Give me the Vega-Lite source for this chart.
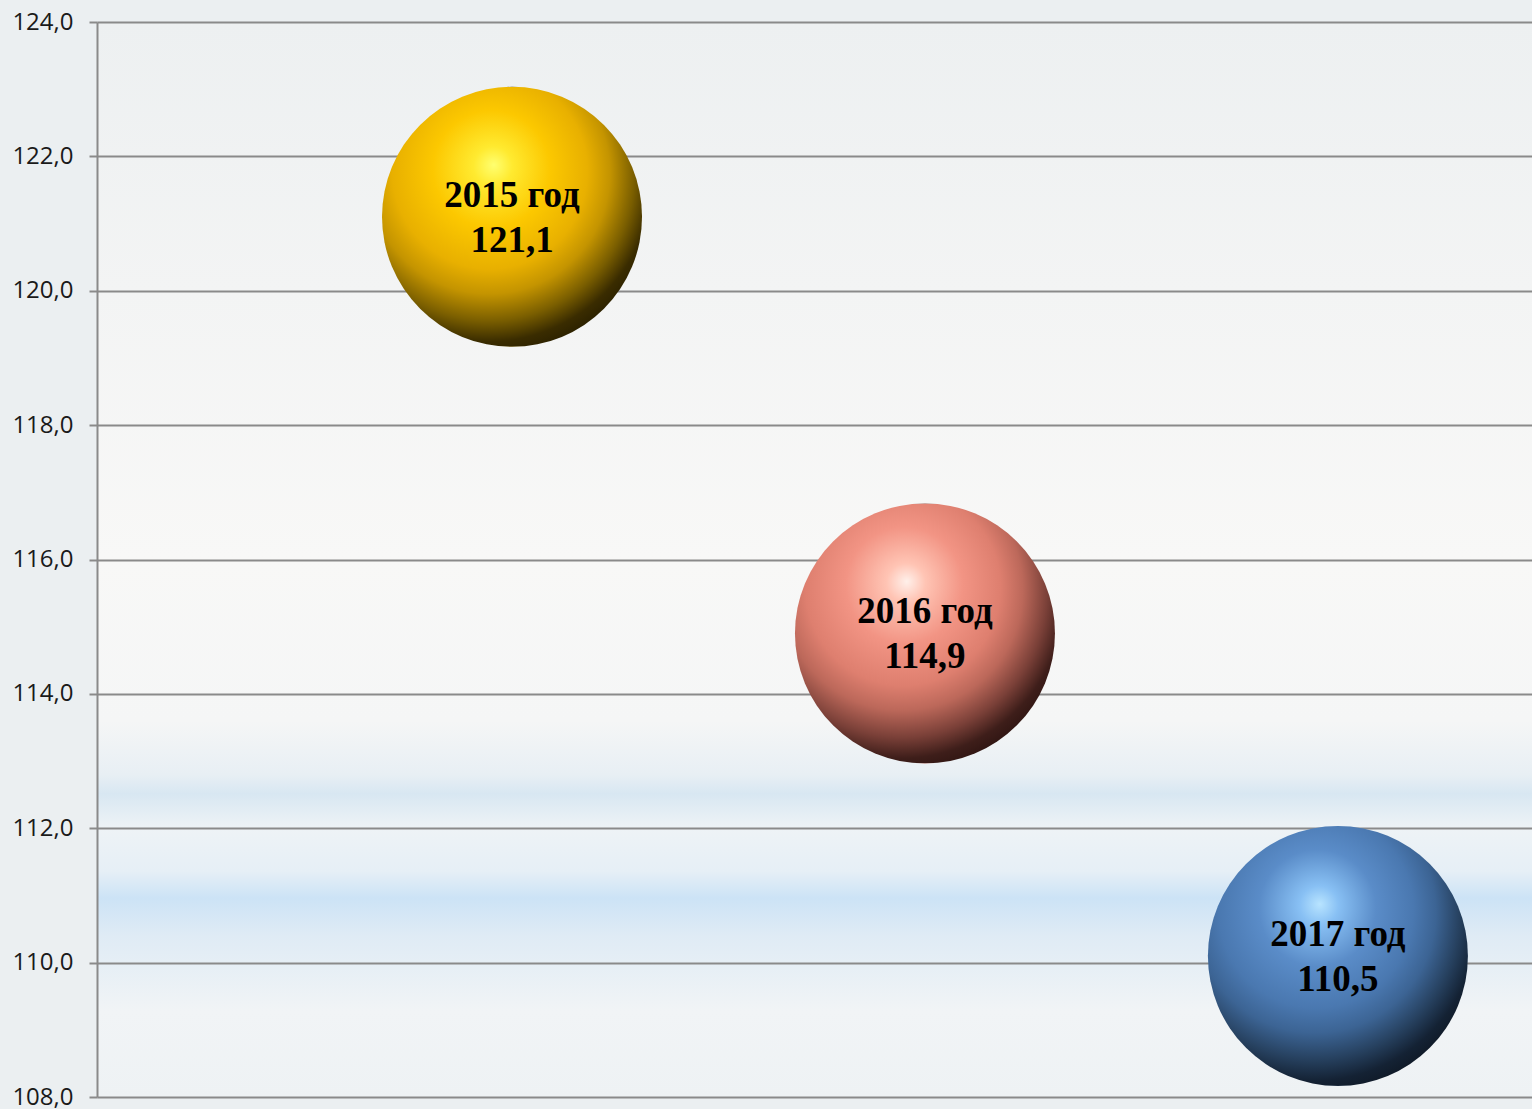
{
  "$schema": "https://vega.github.io/schema/vega-lite/v6.json",
  "width": 1435,
  "height": 1075,
  "autosize": {"type": "none"},
  "padding": {"left": 97, "top": 22, "right": 0, "bottom": 12},
  "background": "#ebeff1",
  "config": {
    "view": {
      "stroke": null,
      "fill": {
        "gradient": "linear", "x1": 0, "y1": 0, "x2": 0, "y2": 1,
        "stops": [
          {"offset": 0, "color": "#edf0f1"},
          {"offset": 0.25, "color": "#f3f4f4"},
          {"offset": 0.5, "color": "#f8f8f7"},
          {"offset": 0.65, "color": "#f5f6f6"},
          {"offset": 0.7, "color": "#e8eff4"},
          {"offset": 0.718, "color": "#d8e7f2"},
          {"offset": 0.75, "color": "#eef3f6"},
          {"offset": 0.79, "color": "#e6eff6"},
          {"offset": 0.815, "color": "#cce3f6"},
          {"offset": 0.85, "color": "#dfebf5"},
          {"offset": 0.92, "color": "#f1f4f6"},
          {"offset": 1, "color": "#eef2f4"}
        ]
      }
    }
  },
  "data": {
    "values": [
      {"x": 1, "y": 121.1, "year": "2015", "text": "2015 год\n121,1"},
      {"x": 2, "y": 114.9, "year": "2016", "text": "2016 год\n114,9"},
      {"x": 3, "y": 110.1, "year": "2017", "text": "2017 год\n110,5"}
    ]
  },
  "encoding": {
    "x": {"field": "x", "type": "quantitative", "scale": {"domain": [-0.005, 3.47], "nice": false, "zero": false}, "axis": null},
    "y": {
      "field": "y", "type": "quantitative",
      "scale": {"domain": [108, 124], "nice": false, "zero": false},
      "axis": {
        "title": null,
        "values": [108, 110, 112, 114, 116, 118, 120, 122, 124],
        "labelExpr": "replace(format(datum.value, '.1f'), '.', ',')",
        "labelFont": "Open Sans",
        "labelFontSize": 24,
        "labelColor": "#1a1a1a",
        "labelPadding": 16,
        "tickSize": 8,
        "tickColor": "#8a8a8a",
        "tickWidth": 2,
        "domainColor": "#8a8a8a",
        "domainWidth": 2,
        "grid": true,
        "gridColor": "#8a8a8a",
        "gridWidth": 2,
        "gridOpacity": 1
      }
    }
  },
  "layer": [
    {
      "transform": [{"filter": "datum.year == '2015'"}],
      "mark": {
        "type": "point", "shape": "circle", "filled": true, "size": 67600, "opacity": 1, "strokeWidth": 0,
        "fill": {
          "gradient": "radial", "x1": 0.43, "y1": 0.3, "r1": 0, "x2": 0.4, "y2": 0.35, "r2": 0.75,
          "stops": [
            {"offset": 0, "color": "#ffff70"},
            {"offset": 0.1, "color": "#ffea30"},
            {"offset": 0.3, "color": "#fcc800"},
            {"offset": 0.5, "color": "#e8b000"},
            {"offset": 0.62, "color": "#c49400"},
            {"offset": 0.75, "color": "#7a5e00"},
            {"offset": 0.85, "color": "#3a2c00"},
            {"offset": 1, "color": "#1a1400"}
          ]
        }
      }
    },
    {
      "transform": [{"filter": "datum.year == '2016'"}],
      "mark": {
        "type": "point", "shape": "circle", "filled": true, "size": 67600, "opacity": 1, "strokeWidth": 0,
        "fill": {
          "gradient": "radial", "x1": 0.43, "y1": 0.3, "r1": 0, "x2": 0.4, "y2": 0.35, "r2": 0.75,
          "stops": [
            {"offset": 0, "color": "#fff0ea"},
            {"offset": 0.1, "color": "#ffc4b4"},
            {"offset": 0.3, "color": "#f29484"},
            {"offset": 0.5, "color": "#de7f6f"},
            {"offset": 0.62, "color": "#bc685a"},
            {"offset": 0.75, "color": "#7a4038"},
            {"offset": 0.85, "color": "#3e1e1a"},
            {"offset": 1, "color": "#200c0a"}
          ]
        }
      }
    },
    {
      "transform": [{"filter": "datum.year == '2017'"}],
      "mark": {
        "type": "point", "shape": "circle", "filled": true, "size": 67600, "opacity": 1, "strokeWidth": 0,
        "fill": {
          "gradient": "radial", "x1": 0.43, "y1": 0.3, "r1": 0, "x2": 0.4, "y2": 0.35, "r2": 0.75,
          "stops": [
            {"offset": 0, "color": "#b8e4ff"},
            {"offset": 0.1, "color": "#88c0f4"},
            {"offset": 0.3, "color": "#5a8cc8"},
            {"offset": 0.5, "color": "#4a78b0"},
            {"offset": 0.62, "color": "#3c6494"},
            {"offset": 0.75, "color": "#26405e"},
            {"offset": 0.85, "color": "#142234"},
            {"offset": 1, "color": "#0a1018"}
          ]
        }
      }
    },
    {
      "mark": {
        "type": "text", "font": "Liberation Serif", "fontWeight": "bold", "fontSize": 37,
        "lineBreak": "\n", "lineHeight": 45, "baseline": "middle", "align": "center", "dy": -21, "color": "#000000"
      },
      "encoding": {"text": {"field": "text", "type": "nominal"}}
    }
  ]
}
